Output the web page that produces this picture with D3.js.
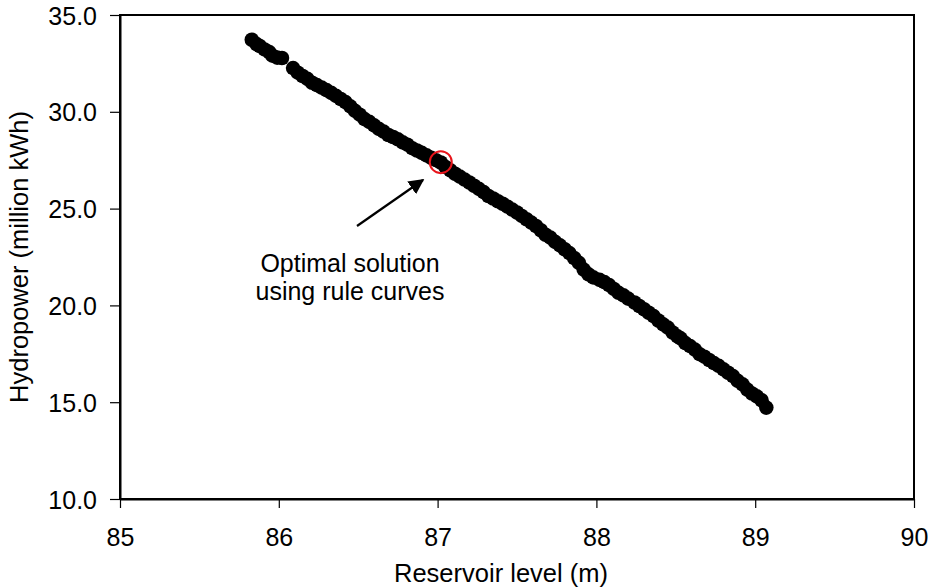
<!DOCTYPE html>
<html>
<head>
<meta charset="utf-8">
<script src="https://cdn.jsdelivr.net/npm/d3@7"></script>
<style>
  body { margin: 0; background: #fff; }
  text { font-family: "Liberation Sans", Arial, sans-serif; fill: #000; }
</style>
</head>
<body>
<svg width="928" height="587"></svg>
<script>
// reservoir level (m) and hydropower (million kWh)
var level = [
  85.83, 85.86, 85.88, 85.91, 85.94, 85.96, 85.99, 86.02,
  86.09, 86.12, 86.15, 86.18, 86.21, 86.24, 86.27, 86.30, 86.33, 86.36, 86.39,
  86.42, 86.45, 86.48, 86.51, 86.54, 86.57, 86.60, 86.63, 86.66,
  86.69, 86.72, 86.75, 86.78, 86.81, 86.84, 86.87, 86.90, 86.93, 86.96, 86.99, 87.02,
  87.05, 87.08, 87.11, 87.14, 87.17, 87.20, 87.23, 87.26, 87.29, 87.32, 87.35, 87.38,
  87.41, 87.44, 87.47, 87.50, 87.53, 87.56, 87.59,
  87.62, 87.65, 87.68, 87.71, 87.74, 87.77, 87.80, 87.83,
  87.86, 87.89, 87.92, 87.95, 87.98, 88.02,
  88.05, 88.08, 88.11, 88.14, 88.17, 88.20, 88.24, 88.27,
  88.30, 88.33, 88.36, 88.39, 88.42, 88.45, 88.48, 88.51, 88.53,
  88.56, 88.59, 88.62, 88.65, 88.68, 88.71, 88.74, 88.77,
  88.80, 88.83, 88.86, 88.89, 88.92, 88.95, 88.98, 89.01, 89.04, 89.07
];
var power = [
  33.72, 33.50, 33.40, 33.22, 33.08, 32.90, 32.80, 32.78,
  32.26, 32.02, 31.85, 31.70, 31.50, 31.38, 31.25, 31.12, 30.98, 30.82, 30.66,
  30.50, 30.28, 30.05, 29.85, 29.62, 29.48, 29.30, 29.12, 28.98,
  28.80, 28.70, 28.58, 28.42, 28.30, 28.12, 28.00, 27.88, 27.75, 27.62, 27.50, 27.38,
  27.15, 26.98, 26.80, 26.65, 26.50, 26.35, 26.18, 26.02, 25.85, 25.65, 25.52, 25.38,
  25.25, 25.10, 24.95, 24.80, 24.62, 24.45, 24.28,
  24.10, 23.88, 23.65, 23.50, 23.28, 23.10, 22.90, 22.70,
  22.45, 22.20, 21.85, 21.60, 21.45, 21.32,
  21.20, 21.05, 20.85, 20.65, 20.52, 20.35, 20.15, 19.97,
  19.80, 19.62, 19.45, 19.22, 19.02, 18.85, 18.60, 18.40, 18.30,
  18.05, 17.90, 17.72, 17.48, 17.35, 17.18, 17.02, 16.88,
  16.70, 16.52, 16.35, 16.10, 15.92, 15.65, 15.45, 15.30, 15.10, 14.72
];
var xTicks = [85, 86, 87, 88, 89, 90];
var yTicks = [10, 15, 20, 25, 30, 35];
var optimal = [87.02, 27.40];

var margin = {left: 120, right: 14, top: 15, bottom: 88};
var width = 928, height = 587;
var svg = d3.select("svg");

var x = d3.scaleLinear().domain([85, 90]).range([margin.left, width - margin.right]);
var y = d3.scaleLinear().domain([10, 35]).range([height - margin.bottom, margin.top]);

// frame
svg.append("rect")
  .attr("x", x(85)).attr("y", y(35))
  .attr("width", x(90) - x(85)).attr("height", y(10) - y(35))
  .style("fill", "none").style("stroke", "#000").style("stroke-width", 2);

var xAxis = svg.append("g")
  .attr("transform", "translate(0," + y(10) + ")")
  .call(d3.axisBottom(x).tickValues(xTicks).tickSize(9).tickSizeOuter(0).tickFormat(d3.format("d")));
var yAxis = svg.append("g")
  .attr("transform", "translate(" + x(85) + ",0)")
  .call(d3.axisLeft(y).tickValues(yTicks).tickSize(10).tickSizeOuter(0).tickFormat(d3.format(".1f")));

[xAxis, yAxis].forEach(function(g) {
  g.select(".domain").style("stroke-width", 2);
  g.selectAll(".tick line").style("stroke-width", 1.2);
  g.selectAll("text").style("font-size", "25px").style("font-family", "Liberation Sans, Arial, sans-serif");
});
xAxis.selectAll("text").attr("y", 0).attr("dy", null).attr("transform", "translate(0,47)");
yAxis.selectAll("text").attr("x", -23).attr("dy", "0.36em");

// points
var pts = level.map(function(d, i) { return {x: d, y: power[i]}; });
svg.append("g").selectAll("circle")
  .data(pts).enter().append("circle")
  .attr("cx", d => x(d.x))
  .attr("cy", d => y(d.y))
  .attr("r", 7.3)
  .style("fill", "#000");

// highlighted optimal solution
svg.append("circle")
  .attr("cx", x(optimal[0])).attr("cy", y(optimal[1]))
  .attr("r", 11)
  .style("fill", "none").style("stroke", "#e8141b").style("stroke-width", 2);

// arrow
svg.append("defs").append("marker")
  .attr("id", "head").attr("viewBox", "0 0 10 10")
  .attr("refX", 9).attr("refY", 5)
  .attr("markerWidth", 7).attr("markerHeight", 7)
  .attr("orient", "auto")
  .append("path").attr("d", "M0,0 L10,5 L0,10 z").style("fill", "#000");

svg.append("line")
  .attr("x1", 357).attr("y1", 226)
  .attr("x2", 423).attr("y2", 180)
  .style("stroke", "#000").style("stroke-width", 2.2)
  .attr("marker-end", "url(#head)");

var note = svg.append("text")
  .attr("text-anchor", "middle")
  .style("font-size", "25px");
note.append("tspan").attr("x", 350).attr("y", 272).text("Optimal solution");
note.append("tspan").attr("x", 350).attr("y", 300).text("using rule curves");

// axis titles
svg.append("text")
  .attr("x", 501).attr("y", 582)
  .attr("text-anchor", "middle")
  .style("font-size", "25.5px")
  .text("Reservoir level (m)");

svg.append("text")
  .attr("transform", "translate(28," + ((y(10) + y(35)) / 2) + ") rotate(-90)")
  .attr("text-anchor", "middle")
  .style("font-size", "25.5px")
  .text("Hydropower (million kWh)");
</script>
</body>
</html>
